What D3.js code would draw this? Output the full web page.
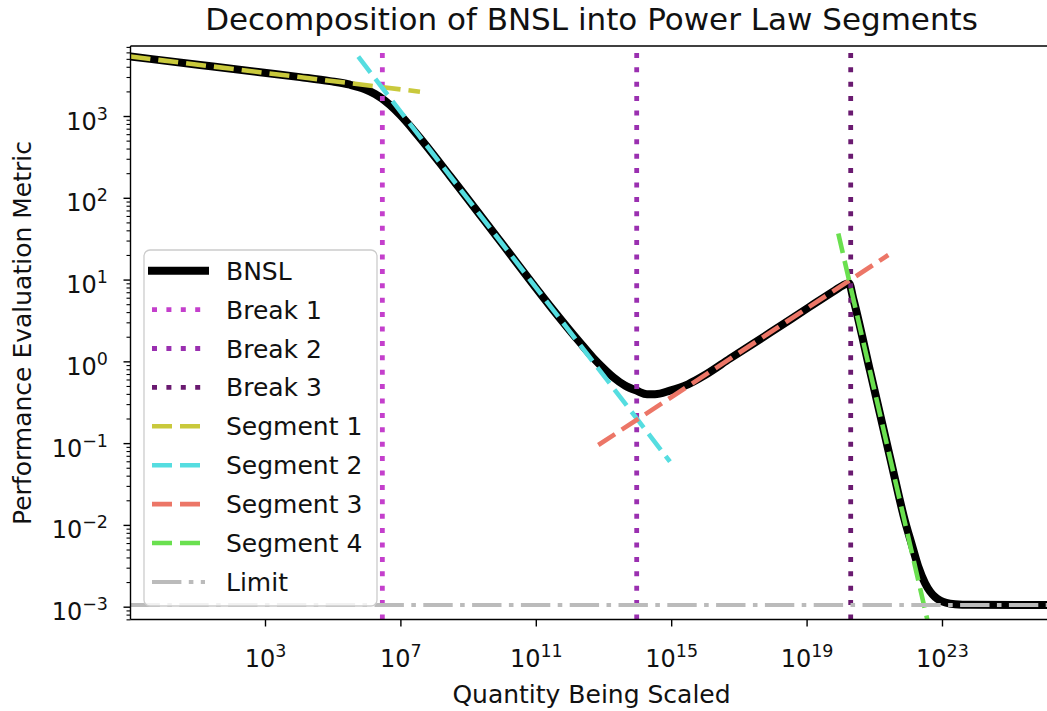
<!DOCTYPE html>
<html><head><meta charset="utf-8">
<script src="https://cdn.jsdelivr.net/npm/d3@7"></script>
<style>
body{margin:0;background:#fff}
svg{display:block}
text{font-family:"DejaVu Sans",sans-serif;fill:#111}
</style>
</head><body>
<svg id="c" width="1047" height="711"></svg>
<script>
// ---- data ----
const bnslX = [0.1063, 12.02, 711.8, 1.081e4, 8.32e4, 3.245e5, 9.00e5, 1.777e6, 2.783e6, 4.93e6, 9.73e6, 3.093e7, 2.92e8, 8.76e9, 2.627e11, 2.022e12, 4.896e12, 9.66e12, 1.909e13, 4.315e13, 9.765e13, 1.928e14, 3.322e14, 9.22e14, 3.136e15, 9.97e15, 5.46e16, 8.35e17, 1.269e19, 6.95e19, 1.198e20, 1.801e20, 2.364e20, 7.52e20, 2.93e21, 8.13e21, 1.308e22, 1.967e22, 3.167e22, 4.45e22, 6.25e22, 8.79e22, 1.322e23, 2.438e23, 6.76e23, 1.84e26];
const bnslY = [5341, 4204, 3423, 2990, 2672, 2414, 2126, 1858, 1646, 1359, 1034, 597.5, 185.1, 29.7, 4.764, 1.699, 1.111, 0.834, 0.6435, 0.5065, 0.4363, 0.3965, 0.3965, 0.4387, 0.524, 0.6808, 1.083, 2.239, 4.684, 7.39, 8.508, 9.0, 5.95, 0.7573, 0.06651, 0.011, 0.005583, 0.003134, 0.001937, 0.001533, 0.001313, 0.001193, 0.001118, 0.001073, 0.001054, 0.00105];

const breakNames = ["Break 1", "Break 2", "Break 3"];
const breakX = [2.93e6, 9.57e13, 2.01e20];
const breakColors = ["#c43fcc", "#9a2fb0", "#6a1a70"];

const segNames = ["Segment 1", "Segment 2", "Segment 3", "Segment 4"];
const seg1X = [0.1063, 3.79e7],  seg1Y = [5341, 1982];
const seg2X = [5.70e5, 9.2e14],  seg2Y = [5309, 0.0593];
const seg3X = [7.02e12, 2.59e21], seg3Y = [0.0948, 19.95];
const seg4X = [8.65e19, 5.07e22], seg4Y = [36.5, 3.92e-4];
const segColors = ["#c9c93c", "#55dde0", "#ec7667", "#6ae04f"];

const limitY = 0.00105;
const limitColor = "#bbbbbb";

const xTickExp = [3, 7, 11, 15, 19, 23];
const yTickExp = [-3, -2, -1, 0, 1, 2, 3];
const xDomain = [0.1063, 1.84e26];
const yDomain = [6.97e-4, 7180];

const titleText = "Decomposition of BNSL into Power Law Segments";
const xLabel = "Quantity Being Scaled";
const yLabel = "Performance Evaluation Metric";

// ---- layout ----
const L = 130.5, R = 1052.5, T = 46, B = 619.5;
const svg = d3.select("#c");
const x = d3.scaleLog().domain(xDomain).range([L, R]);
const y = d3.scaleLog().domain(yDomain).range([B, T]);

svg.append("defs").append("clipPath").attr("id", "clip")
  .append("rect").attr("x", L).attr("y", T).attr("width", R - L).attr("height", B - T);

const plot = svg.append("g").attr("clip-path", "url(#clip)");

const bnsl = bnslX.map((v, i) => [v, bnslY[i]]);
const line = d3.line().x(d => x(d[0])).y(d => y(d[1])).curve(d3.curveMonotoneX);

// BNSL
plot.append("path").datum(bnsl).attr("d", line)
  .attr("fill", "none").attr("stroke", "#000").attr("stroke-width", 8)
  .attr("stroke-linejoin", "round");

// Breaks
breakX.forEach((bx, i) => {
  plot.append("line")
    .attr("x1", x(bx)).attr("x2", x(bx)).attr("y1", B).attr("y2", T)
    .attr("stroke", breakColors[i]).attr("stroke-width", 4.8)
    .attr("stroke-dasharray", "5,9.4");
});

// Segments
const segs = [[seg1X, seg1Y], [seg2X, seg2Y], [seg3X, seg3Y], [seg4X, seg4Y]];
segs.forEach((s, i) => {
  const pts = s[0].map((v, j) => [v, s[1][j]]);
  plot.append("path").datum(pts).attr("d", d3.line().x(d => x(d[0])).y(d => y(d[1])))
    .attr("fill", "none").attr("stroke", segColors[i]).attr("stroke-width", 4.6)
    .attr("stroke-dasharray", "20,8");
});

// Limit
plot.append("line")
  .attr("x1", L).attr("x2", R).attr("y1", y(limitY)).attr("y2", y(limitY))
  .attr("stroke", limitColor).attr("stroke-width", 4)
  .attr("stroke-dasharray", "29.4,7.4,4.6,7.4");

// ---- axes ----
const sup = e => String(e).replace("-", "\u2212");

const gx = svg.append("g").attr("transform", `translate(0,${B})`)
  .call(d3.axisBottom(x).tickValues(xTickExp.map(e => Math.pow(10, e)))
    .tickSize(7).tickSizeOuter(0).tickFormat(() => ""));
gx.select(".domain").remove();
gx.selectAll(".tick line").attr("stroke", "#000").attr("stroke-width", 1.4);
gx.selectAll(".tick text").each(function (d, i) {
  const t = d3.select(this);
  t.text(null).attr("dy", null).attr("y", 47.5).attr("font-size", 24)
    .attr("text-anchor", "middle").attr("fill", "#111");
  t.append("tspan").text("10");
  t.append("tspan").attr("dy", -10).attr("font-size", 17.5).text(sup(xTickExp[i]));
});

const yMinor = [];
for (let k = -4; k <= 3; k++) for (let m = 2; m <= 9; m++) {
  const v = m * Math.pow(10, k);
  if (v >= yDomain[0] && v <= yDomain[1]) yMinor.push(v);
}
const gym = svg.append("g").attr("transform", `translate(${L},0)`)
  .call(d3.axisLeft(y).tickValues(yMinor).tickSize(4).tickSizeOuter(0).tickFormat(() => ""));
gym.select(".domain").remove();
gym.selectAll(".tick line").attr("stroke", "#000").attr("stroke-width", 1.1);

const gy = svg.append("g").attr("transform", `translate(${L},0)`)
  .call(d3.axisLeft(y).tickValues(yTickExp.map(e => Math.pow(10, e)))
    .tickSize(7).tickSizeOuter(0).tickFormat(() => ""));
gy.select(".domain").remove();
gy.selectAll(".tick line").attr("stroke", "#000").attr("stroke-width", 1.4);
gy.selectAll(".tick text").each(function (d, i) {
  const t = d3.select(this);
  t.text(null).attr("dy", null).attr("x", -22.5).attr("y", 13).attr("font-size", 24)
    .attr("text-anchor", "end").attr("fill", "#111");
  t.append("tspan").text("10");
  t.append("tspan").attr("dy", -10).attr("font-size", 17.5).text(sup(yTickExp[i]));
});

// spines
svg.append("line").attr("x1", L).attr("x2", L).attr("y1", T).attr("y2", B)
  .attr("stroke", "#000").attr("stroke-width", 1.4);
svg.append("line").attr("x1", L).attr("x2", R).attr("y1", B).attr("y2", B)
  .attr("stroke", "#000").attr("stroke-width", 1.4);
svg.append("line").attr("x1", L).attr("x2", R).attr("y1", T).attr("y2", T)
  .attr("stroke", "#000").attr("stroke-width", 1.4);

// labels
svg.append("text").attr("x", (L + R) / 2).attr("y", 30).attr("text-anchor", "middle")
  .attr("font-size", 31).text(titleText);
svg.append("text").attr("x", (L + R) / 2).attr("y", 703).attr("text-anchor", "middle")
  .attr("font-size", 25).text(xLabel);
svg.append("text").attr("transform", "translate(31,333) rotate(-90)").attr("text-anchor", "middle")
  .attr("font-size", 25).text(yLabel);

// ---- legend ----
const lg = svg.append("g");
lg.append("rect").attr("x", 144).attr("y", 250).attr("width", 233).attr("height", 356)
  .attr("rx", 6).attr("fill", "#fff").attr("fill-opacity", 0.8)
  .attr("stroke", "#cccccc").attr("stroke-width", 1.3);

const legendItems = [
  {name: "BNSL", color: "#000", w: 8, dash: null, cap: "square"},
  ...breakNames.map((n, i) => ({name: n, color: breakColors[i], w: 4.8, dash: "5,9.4", cap: "butt"})),
  ...segNames.map((n, i) => ({name: n, color: segColors[i], w: 4.6, dash: "20,8", cap: "butt"})),
  {name: "Limit", color: limitColor, w: 4, dash: "29.4,7.4,4.6,7.4", cap: "butt"}
];
legendItems.forEach((it, i) => {
  const cy = 270.7 + i * 38.9;
  lg.append("line").attr("x1", 152).attr("x2", 205).attr("y1", cy).attr("y2", cy)
    .attr("stroke", it.color).attr("stroke-width", it.w)
    .attr("stroke-linecap", it.cap)
    .attr("stroke-dasharray", it.dash);
  lg.append("text").attr("x", 226).attr("y", cy + 9).attr("font-size", 25).text(it.name);
});
</script>
</body></html>
